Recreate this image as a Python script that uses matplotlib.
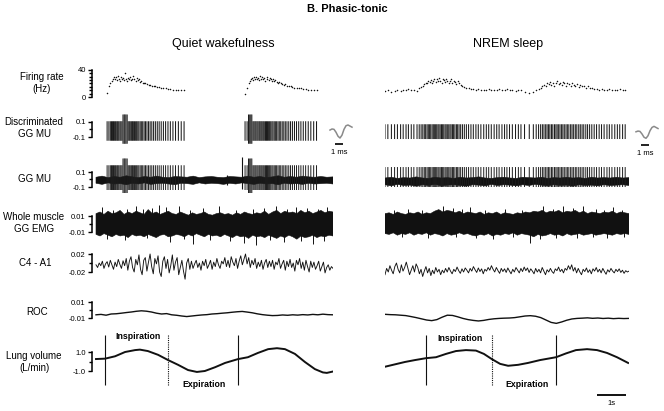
import numpy as np
import matplotlib.pyplot as plt

plt.rcParams['font.family'] = ['Liberation Sans', 'DejaVu Sans']

W, H = 664, 411
PPS = 28.5   # pixels per second on the time axis

# ---------------- data ----------------
# instantaneous firing rate (Hz), one value per discharge of the discriminated unit
qw_rate_1 = [6, 16, 20, 24, 27, 30, 26, 29, 25, 31, 27, 24, 29, 26, 28, 25, 36, 27, 24, 28,
             26, 30, 25, 27, 31, 26, 24, 28, 25, 27, 22, 24, 21, 20, 21, 19, 18, 18, 17, 16,
             16, 15, 15, 14, 13, 13, 12, 12, 11, 11, 10, 10, 10]
qw_rate_2 = [5, 14, 20, 24, 26, 28, 25, 29, 27, 30, 26, 28, 25, 31, 27, 29, 26, 28, 24, 27,
             30, 25, 28, 26, 24, 27, 23, 25, 22, 21, 22, 20, 19, 18, 19, 17, 16, 16, 15, 14,
             14, 13, 13, 12, 12, 11, 11, 10, 10]
nrem_rate = [9, 10, 8, 9, 10, 9, 11, 10, 12, 10, 11, 9,
             13, 15, 17, 19, 21, 20, 23, 22, 25, 21, 24, 27, 22, 26, 23, 28, 24, 21, 26, 25,
             22, 27, 24, 20, 23, 26, 21, 24, 22, 19, 23, 20,
             18, 16, 15, 14, 13, 12, 12, 11, 12, 11, 10, 11, 12, 11, 10, 11, 12, 10, 11, 12,
             11, 10, 9, 10, 11,
             8, 6, 7,
             10, 12, 14, 16, 18, 17, 20, 19, 22, 18, 21, 17, 20, 23, 19, 21, 18, 22, 20, 17,
             21, 19, 16, 20, 18, 17, 19, 15, 18, 16, 17, 14, 16,
             14, 13, 12, 12, 11, 12, 11, 10, 12, 11, 10, 11, 12, 10, 11]
qw_onsets = [0.39, 5.23]      # s, start of each burst in quiet wakefulness
nrem_onset = 0.0

# spikes that stand out (index in burst)
qw_big_1 = [14, 15, 16, 17, 18]
qw_big_2 = [2, 3, 4, 5]

# GG MU artefacts (s, top, bottom)
qw_art_t = [4.6, 5.12]
qw_art_top = [0.06, 0.30]
qw_art_bot = [-0.07, -0.13]

# GG MU baseline noise envelope
qw_mu_up = [0.03, 0.045, 0.025, 0.04, 0.03, 0.05, 0.035, 0.025, 0.04, 0.03, 0.045, 0.03, 0.025,
            0.04, 0.035, 0.03, 0.045, 0.025, 0.035, 0.04, 0.03, 0.025, 0.04, 0.035, 0.03, 0.045,
            0.03, 0.04, 0.025, 0.035, 0.05, 0.03, 0.04, 0.03, 0.045, 0.035, 0.03, 0.04, 0.03, 0.035]
qw_mu_lo = [-0.05, -0.065, -0.045, -0.06, -0.055, -0.07, -0.05, -0.06, -0.045, -0.065, -0.055,
            -0.05, -0.06, -0.07, -0.05, -0.055, -0.065, -0.045, -0.06, -0.05, -0.055, -0.065,
            -0.05, -0.06, -0.045, -0.055, -0.065, -0.05, -0.06, -0.055, -0.07, -0.05, -0.06,
            -0.055, -0.065, -0.05, -0.06, -0.055, -0.05, -0.06]
nrem_mu_up = [0.02, 0.03, 0.015, 0.025, 0.02, 0.035, 0.02, 0.015, 0.03, 0.02, 0.025, 0.015, 0.03,
              0.02, 0.025, 0.035, 0.02, 0.015, 0.025, 0.03, 0.02, 0.015, 0.03, 0.025, 0.02, 0.03,
              0.015, 0.025, 0.02, 0.03, 0.02, 0.025, 0.015, 0.03, 0.02, 0.025, 0.02, 0.03, 0.02, 0.025]
nrem_mu_lo = [-0.07, -0.085, -0.065, -0.08, -0.075, -0.09, -0.07, -0.08, -0.065, -0.085, -0.075,
              -0.07, -0.08, -0.09, -0.07, -0.075, -0.085, -0.065, -0.08, -0.07, -0.075, -0.085,
              -0.07, -0.08, -0.065, -0.075, -0.085, -0.07, -0.08, -0.075, -0.09, -0.07, -0.08,
              -0.075, -0.085, -0.07, -0.08, -0.075, -0.07, -0.08]

# whole muscle EMG envelope (V)
qw_emg_up = [0.013, 0.015, 0.012, 0.016, 0.013, 0.014, 0.017, 0.012, 0.015, 0.013, 0.016, 0.014,
             0.012, 0.018, 0.013, 0.015, 0.012, 0.014, 0.016, 0.013, 0.012, 0.015, 0.013, 0.011,
             0.014, 0.012, 0.013, 0.015, 0.012, 0.011, 0.013, 0.014, 0.012, 0.013, 0.011, 0.014,
             0.012, 0.015, 0.013, 0.012, 0.014, 0.013, 0.016, 0.012, 0.015, 0.017, 0.013, 0.016,
             0.014, 0.015, 0.013, 0.017, 0.014, 0.016, 0.013, 0.015, 0.017, 0.014, 0.016, 0.015]
qw_emg_lo = [-0.013, -0.015, -0.012, -0.014, -0.016, -0.013, -0.015, -0.014, -0.017, -0.013,
             -0.015, -0.014, -0.016, -0.013, -0.015, -0.017, -0.014, -0.013, -0.016, -0.015,
             -0.013, -0.014, -0.016, -0.013, -0.015, -0.012, -0.014, -0.016, -0.013, -0.015,
             -0.014, -0.016, -0.013, -0.015, -0.017, -0.014, -0.016, -0.015, -0.018, -0.014,
             -0.016, -0.015, -0.017, -0.014, -0.016, -0.018, -0.015, -0.017, -0.014, -0.016,
             -0.019, -0.015, -0.017, -0.016, -0.014, -0.017, -0.015, -0.016, -0.014, -0.015]
qw_emg_pk_t = [0.2, 0.6, 1.1, 1.4, 1.65, 1.95, 2.2, 2.45, 2.9, 3.3, 3.75, 4.3, 4.9, 5.5, 5.9,
               6.3, 6.7, 7.0, 7.4, 7.8, 8.1]
qw_emg_pk_v = [0.021, 0.018, 0.019, 0.022, 0.019, 0.020, 0.024, 0.021, 0.023, 0.018, 0.020,
               0.022, 0.018, 0.019, 0.020, 0.022, 0.019, 0.021, 0.020, 0.019, 0.021]
qw_emg_dp_t = [0.4, 1.0, 1.8, 2.6, 3.1, 3.4, 4.0, 4.7, 5.2, 5.6, 6.1, 6.6, 7.2, 7.6, 8.0]
qw_emg_dp_v = [-0.019, -0.020, -0.018, -0.022, -0.019, -0.025, -0.020, -0.021, -0.024, -0.026,
               -0.020, -0.022, -0.021, -0.025, -0.021]

nrem_emg_up = [0.013, 0.014, 0.012, 0.015, 0.013, 0.012, 0.014, 0.013, 0.015, 0.012, 0.014, 0.013,
               0.016, 0.018, 0.015, 0.017, 0.016, 0.014, 0.016, 0.013, 0.015, 0.014, 0.013, 0.015,
               0.012, 0.014, 0.013, 0.015, 0.012, 0.014, 0.013, 0.012, 0.014, 0.013, 0.015, 0.014,
               0.016, 0.015, 0.017, 0.014, 0.016, 0.015, 0.017, 0.014, 0.016, 0.015, 0.017, 0.014,
               0.016, 0.013, 0.015, 0.014, 0.013, 0.015, 0.014, 0.016, 0.013, 0.015, 0.014, 0.013]
nrem_emg_lo = [-0.012, -0.013, -0.011, -0.014, -0.012, -0.013, -0.011, -0.014, -0.012, -0.013,
               -0.011, -0.014, -0.012, -0.013, -0.015, -0.012, -0.014, -0.013, -0.011, -0.013,
               -0.012, -0.014, -0.015, -0.013, -0.014, -0.012, -0.015, -0.013, -0.014, -0.012,
               -0.013, -0.011, -0.014, -0.012, -0.013, -0.014, -0.016, -0.013, -0.015, -0.014,
               -0.012, -0.014, -0.013, -0.015, -0.012, -0.014, -0.013, -0.012, -0.014, -0.013,
               -0.012, -0.014, -0.013, -0.012, -0.013, -0.014, -0.012, -0.013, -0.012, -0.013]
nrem_emg_pk_t = [0.3, 0.8, 1.3, 2.03, 2.4, 2.7, 2.98, 3.5, 4.2, 4.8, 5.54, 5.9, 6.25, 6.6, 6.95,
                 7.4, 7.7, 8.0, 8.3]
nrem_emg_pk_v = [0.017, 0.019, 0.018, 0.023, 0.020, 0.019, 0.021, 0.018, 0.019, 0.018, 0.022,
                 0.019, 0.023, 0.020, 0.022, 0.019, 0.018, 0.021, 0.018]
nrem_emg_dp_t = [0.6, 1.5, 2.5, 3.2, 3.8, 4.5, 5.1, 5.44, 6.0, 6.74, 7.3, 7.8, 8.4]
nrem_emg_dp_v = [-0.016, -0.018, -0.016, -0.017, -0.019, -0.016, -0.024, -0.019, -0.017, -0.018,
                 -0.016, -0.017, -0.016]

# EEG C4 - A1 (V)
qw_eeg = [-0.004, -0.010, 0.000, -0.006, 0.004, -0.012, -0.002, 0.003, -0.009, 0.006,
          -0.004, -0.014, 0.002, -0.008, 0.008, -0.003, -0.012, 0.005, -0.006, 0.010,
          -0.016, 0.004, 0.014, -0.010, -0.020, 0.008, -0.004, 0.018, -0.014, -0.026,
          0.006, 0.012, -0.018, 0.002, 0.020, -0.008, -0.024, 0.010, -0.002, 0.016,
          -0.020, -0.030, 0.004, 0.014, -0.012, 0.008, -0.022, -0.006, 0.018, -0.016,
          0.002, 0.012, -0.026, -0.010, 0.006, -0.018, -0.036, 0.000, 0.010, -0.014,
          0.004, -0.012, -0.002, 0.006, -0.010, 0.000, -0.016, 0.004, -0.006, 0.008,
          -0.012, -0.004, 0.006, -0.014, 0.002, -0.008, 0.010, -0.004, -0.012, 0.004,
          -0.002, 0.012, -0.008, 0.006, -0.010, 0.014, 0.002, -0.006, 0.010, -0.012,
          0.004, 0.016, -0.004, 0.008, 0.020, -0.002, 0.012, -0.010, 0.006, -0.004,
          0.010, -0.012, 0.002, -0.008, 0.006, -0.014, 0.000, 0.008, -0.010, 0.004,
          -0.008, 0.006, -0.014, 0.002, -0.004, 0.010, -0.012, -0.002, 0.006, -0.016,
          0.004, -0.008, 0.008, -0.010, 0.000, -0.018, 0.006, -0.004, 0.010, -0.012,
          0.002, -0.016, 0.006, -0.008, -0.020, 0.004, -0.010, 0.002, -0.014, -0.006,
          0.004, -0.018, -0.008, 0.002, -0.022, -0.010, -0.004, -0.016, -0.008, -0.012]
nrem_eeg = [-0.026, -0.012, -0.020, -0.006, -0.016, -0.024, -0.008, 0.000, -0.014, -0.022,
            -0.004, -0.018, -0.010, 0.002, -0.012, -0.026, -0.016, -0.006, -0.020, -0.002,
            -0.010, -0.024, -0.014, -0.030, -0.018, -0.008, -0.022, -0.012, -0.028, -0.016,
            -0.024, -0.010, -0.020, -0.014, -0.026, -0.016, -0.022, -0.012, -0.020, -0.010,
            -0.018, -0.024, -0.014, -0.019, -0.009, -0.017, -0.023, -0.013, -0.020, -0.011,
            -0.016, -0.022, -0.012, -0.018, -0.008, -0.015, -0.021, -0.011, -0.019, -0.013,
            -0.024, -0.014, -0.018, -0.010, -0.016, -0.006, -0.014, -0.020, -0.010, -0.017,
            -0.023, -0.012, -0.019, -0.013, -0.021, -0.011, -0.018, -0.024, -0.014, -0.020,
            -0.010, -0.016, -0.022, -0.012, -0.019, -0.009, -0.017, -0.011, -0.021, -0.013,
            -0.018, -0.024, -0.012, -0.020, -0.014, -0.022, -0.010, -0.018, -0.026, -0.015,
            -0.020, -0.012, -0.019, -0.023, -0.013, -0.017, -0.009, -0.019, -0.014, -0.022,
            -0.012, -0.016, -0.006, -0.014, -0.004, -0.018, -0.010, -0.022, -0.012, -0.020,
            -0.026, -0.014, -0.019, -0.011, -0.021, -0.015, -0.024, -0.013, -0.018, -0.010,
            -0.020, -0.014, -0.022, -0.012, -0.019, -0.025, -0.015, -0.020, -0.012, -0.018,
            -0.022, -0.014, -0.019, -0.013, -0.021, -0.016, -0.023, -0.017, -0.020, -0.018]

# ROC (V)
qw_roc = [-0.0060, -0.0055, -0.0065, -0.0050, -0.0047, -0.0040, -0.0032, -0.0025, -0.0016, -0.0010,
          -0.0015, -0.0025, -0.0040, -0.0050, -0.0045, -0.0060, -0.0066, -0.0075, -0.0082, -0.0075,
          -0.0068, -0.0062, -0.0058, -0.0050, -0.0046, -0.0040, -0.0035, -0.0028, -0.0022, -0.0018,
          -0.0026, -0.0035, -0.0048, -0.0058, -0.0065, -0.0070, -0.0068, -0.0062, -0.0066, -0.0060,
          -0.0064, -0.0058, -0.0062, -0.0055, -0.0060, -0.0052, -0.0058, -0.0060]
nrem_roc = [-0.0054, -0.0058, -0.0060, -0.0065, -0.0070, -0.0082, -0.0095, -0.0110, -0.0125, -0.0133,
            -0.0120, -0.0090, -0.0065, -0.0068, -0.0085, -0.0105, -0.0120, -0.0130, -0.0137, -0.0130,
            -0.0118, -0.0110, -0.0105, -0.0102, -0.0100, -0.0095, -0.0085, -0.0075, -0.0071, -0.0078,
            -0.0095, -0.0125, -0.0155, -0.0167, -0.0150, -0.0128, -0.0112, -0.0105, -0.0102, -0.0098,
            -0.0104, -0.0100, -0.0106, -0.0102, -0.0108, -0.0104, -0.0107, -0.0105]

# lung volume (L/min)
qw_lung_t = [0, 0.32, 0.67, 1.02, 1.37, 1.54, 1.82, 2.18, 2.53, 2.88, 3.23, 3.54, 3.82, 4.18,
             4.53, 4.98, 5.33, 5.68, 6.04, 6.35, 6.63, 6.98, 7.33, 7.68, 7.96, 8.1, 8.32]
qw_lung_v = [0.26, 0.3, 0.55, 1.0, 1.2, 1.25, 1.1, 0.7, 0.15, -0.35, -0.9, -1.1, -1.0, -0.6,
             -0.15, 0.25, 0.45, 0.9, 1.3, 1.4, 1.3, 0.8, -0.05, -0.8, -1.15, -1.2, -1.05]
nrem_lung_t = [0, 0.35, 0.7, 1.05, 1.44, 1.79, 2.14, 2.49, 2.84, 3.19, 3.47, 3.75, 4.04, 4.32,
               4.67, 5.02, 5.44, 6.0, 6.35, 6.7, 7.09, 7.44, 7.79, 8.14, 8.53]
nrem_lung_v = [-0.55, -0.3, -0.05, 0.15, 0.35, 0.45, 0.8, 1.1, 1.2, 1.15, 0.8, 0.25, -0.25, -0.45,
               -0.35, -0.15, 0.15, 0.45, 0.85, 1.2, 1.3, 1.2, 0.9, 0.45, -0.15]
qw_phase_t = [0.32, 2.53, 4.98]
nrem_phase_t = [1.44, 3.75, 6.0]

# averaged spike waveform (ms, a.u.)
wf_t = [0, 0.25, 0.5, 0.75, 1.0, 1.25, 1.5, 1.75, 2.0, 2.25, 2.5, 2.75]
wf_qw = [0.1, 0.25, 0.2, -0.2, -0.75, -1.0, -0.6, 0.2, 0.7, 0.8, 0.65, 0.5]
wf_nrem = [0.0, 0.1, 0.05, -0.3, -0.75, -0.9, -0.55, 0.15, 0.6, 0.75, 0.6, 0.45]

row_labels = ['Firing rate\n(Hz)', 'Discriminated\nGG MU', 'GG MU', 'Whole muscle\nGG EMG',
              'C4 - A1', 'ROC', 'Lung volume\n(L/min)']

# ---------------- layout ----------------
fig = plt.figure(figsize=(W / 100, H / 100), dpi=100)

# (top px, bottom px, (value, px), (value, px)) per row
rows = [
    (64, 102, (40, 70), (0, 97)),
    (108, 150, (0.1, 122), (-0.1, 137)),
    (152, 196, (0.1, 172), (-0.1, 187)),
    (198, 248, (0.01, 216), (-0.01, 232)),
    (248, 288, (0.02, 254), (-0.02, 272)),
    (294, 330, (0.01, 302), (-0.01, 318)),
    (332, 410, (1.0, 352), (-1.0, 371)),
]
qw_xlim = (-4 / PPS, (333 - 96) / PPS)
nrem_xlim = (0, (629 - 385) / PPS)


def make_row(x0, x1, spec, xlim):
    top, bot, (va, pa), (vb, pb) = spec
    k = (va - vb) / (pb - pa)
    ax = fig.add_axes([x0 / W, 1 - bot / H, (x1 - x0) / W, (bot - top) / H])
    ax.set_ylim(va - (bot - pa) * k, va + (pa - top) * k)
    ax.set_xlim(*xlim)
    for s in ax.spines.values():
        s.set_visible(False)
    ax.set_xticks([])
    ax.set_yticks([])
    ax.patch.set_alpha(0)
    return ax


def add_bracket(ax, hi, lo, labels, minor):
    sp = ax.spines['left']
    sp.set_visible(True)
    sp.set_bounds(lo, hi)
    sp.set_linewidth(1.1)
    ax.set_yticks([lo, hi])
    ax.set_yticklabels(labels[::-1])
    ax.set_yticks(minor, minor=True)
    ax.tick_params(axis='y', which='major', length=3, width=1.0, labelsize=5.5, pad=1.5)
    ax.tick_params(axis='y', which='minor', length=2.5, width=1.0)


qw_axes = [make_row(92, 333, r, qw_xlim) for r in rows]
nrem_axes = [make_row(385, 629, r, nrem_xlim) for r in rows]

add_bracket(qw_axes[0], 40, 0, ['40', '0'], [5, 10, 15, 20, 25, 30, 35])
add_bracket(qw_axes[1], 0.1, -0.1, ['0.1', '-0.1'], [0])
add_bracket(qw_axes[2], 0.1, -0.1, ['0.1', '-0.1'], [0])
add_bracket(qw_axes[3], 0.01, -0.01, ['0.01', '-0.01'], [0])
add_bracket(qw_axes[4], 0.02, -0.02, ['0.02', '-0.02'], [0])
add_bracket(qw_axes[5], 0.01, -0.01, ['0.01', '-0.01'], [0])
add_bracket(qw_axes[6], 1.0, -1.0, ['1.0', '-1.0'], [0])

ink = '#111111'
spike_ink = '#1c1c1c'


def spike_times(rate, onset):
    r = np.asarray(rate, float)
    return onset + np.cumsum(1 / r) - 1 / r[0]


def draw_units(axs, rates, onsets, bigs, disc, mu):
    for rate, onset, big in zip(rates, onsets, bigs):
        ts = spike_times(rate, onset)
        axs[0].plot(ts, rate, ls='none', marker='o', ms=1.1, mfc=ink, mec='none')
        top = np.full(len(ts), disc[0])
        bot = np.full(len(ts), disc[1])
        top[big] = disc[2]
        bot[big] = disc[3]
        axs[1].vlines(ts, bot, top, color=spike_ink, lw=0.75, snap=False)
        top = np.full(len(ts), mu[0])
        bot = np.full(len(ts), mu[1])
        top[big] = mu[2]
        bot[big] = mu[3]
        axs[2].vlines(ts, bot, top, color=spike_ink, lw=0.7, snap=False)


def band(ax, up, lo, xlim):
    tu = np.linspace(max(xlim[0], 0), xlim[1], len(up))
    tl = np.linspace(max(xlim[0], 0), xlim[1], len(lo))
    ax.fill(np.r_[tu, tl[::-1]], np.r_[up, lo[::-1]], color=ink, lw=0.4, ec=ink)


def line(ax, vals, xlim, lw):
    t = np.linspace(max(xlim[0], 0), xlim[1], len(vals))
    ax.plot(t, vals, color=ink, lw=lw)


# quiet wakefulness
draw_units(qw_axes, [qw_rate_1, qw_rate_2], qw_onsets, [qw_big_1, qw_big_2],
           (0.11, -0.15, 0.2, -0.19), (0.19, -0.14, 0.28, -0.18))
band(qw_axes[2], qw_mu_up, qw_mu_lo, qw_xlim)
qw_axes[2].vlines(qw_art_t, qw_art_bot, qw_art_top, color=ink, lw=0.8)
band(qw_axes[3], qw_emg_up, qw_emg_lo, qw_xlim)
qw_axes[3].vlines(qw_emg_pk_t, 0, qw_emg_pk_v, color=ink, lw=0.7)
qw_axes[3].vlines(qw_emg_dp_t, qw_emg_dp_v, 0, color=ink, lw=0.7)
line(qw_axes[4], qw_eeg, qw_xlim, 0.65)
line(qw_axes[5], qw_roc, qw_xlim, 1.0)
qw_axes[6].plot(qw_lung_t, qw_lung_v, color=ink, lw=1.4)

# NREM sleep
draw_units(nrem_axes, [nrem_rate], [nrem_onset], [[]],
           (0.07, -0.127, 0.07, -0.127), (0.166, -0.10, 0.166, -0.10))
band(nrem_axes[2], nrem_mu_up, nrem_mu_lo, nrem_xlim)
band(nrem_axes[3], nrem_emg_up, nrem_emg_lo, nrem_xlim)
nrem_axes[3].vlines(nrem_emg_pk_t, 0, nrem_emg_pk_v, color=ink, lw=0.7)
nrem_axes[3].vlines(nrem_emg_dp_t, nrem_emg_dp_v, 0, color=ink, lw=0.7)
line(nrem_axes[4], nrem_eeg, nrem_xlim, 0.65)
line(nrem_axes[5], nrem_roc, nrem_xlim, 1.0)
nrem_axes[6].plot(nrem_lung_t, nrem_lung_v, color=ink, lw=1.4)

# respiratory phase markers
for ax, ph, insp_x, exp_x, insp_y in [(qw_axes[6], qw_phase_t, 1.47, 3.79, 2.58),
                                      (nrem_axes[6], nrem_phase_t, 2.63, 4.98, 2.37)]:
    ax.vlines([ph[0], ph[2]], -2.52, 2.79, color=ink, lw=0.8)
    ax.vlines([ph[1]], -2.52, 2.79, color=ink, lw=0.8, linestyles=(0, (1, 1)))
    ax.text(insp_x, insp_y, 'Inspiration', ha='center', va='center', fontsize=6.3, weight='bold')
    ax.text(exp_x, -2.37, 'Expiration', ha='center', va='center', fontsize=6.3, weight='bold')

# 1 s time bar
nrem_axes[6].hlines(-3.52, 7.44, 8.44, color=ink, lw=1.4)
nrem_axes[6].text(7.94, -4.46, '1s', ha='center', va='center', fontsize=5.5)

# spike waveform insets
for x0, y0, wf in [(328, 118, wf_qw), (634, 119, wf_nrem)]:
    ax = fig.add_axes([x0 / W, 1 - (y0 + 42) / H, 28 / W, 42 / H])
    ax.set_xlim(-0.25, 3.25)
    ax.set_ylim(-1 - 22 * 0.138, 0.8 + 7 * 0.138)
    ax.axis('off')
    ax.plot(wf_t, wf, color='#8a8a8a', lw=1.1)
    ax.hlines(-1.83, 0.625, 1.625, color=ink, lw=1.3)
    ax.text(1.125, -2.94, '1 ms', ha='center', va='center', fontsize=5.5)

# row labels
label_y = [83, 128, 179, 223, 263, 312, 362]
label_x = [42, 34, 34, 34, 35, 37, 34]
for lab, x, y in zip(row_labels, label_x, label_y):
    fig.text(x / W, 1 - y / H, lab, ha='center', va='center', fontsize=7, linespacing=1.15)

fig.text(347 / W, 1 - 9 / H, 'B. Phasic-tonic', ha='center', va='center', fontsize=8, weight='bold')
fig.text(223 / W, 1 - 44 / H, 'Quiet wakefulness', ha='center', va='center', fontsize=9)
fig.text(508 / W, 1 - 44 / H, 'NREM sleep', ha='center', va='center', fontsize=9)

fig.savefig('out.png', dpi=100)
